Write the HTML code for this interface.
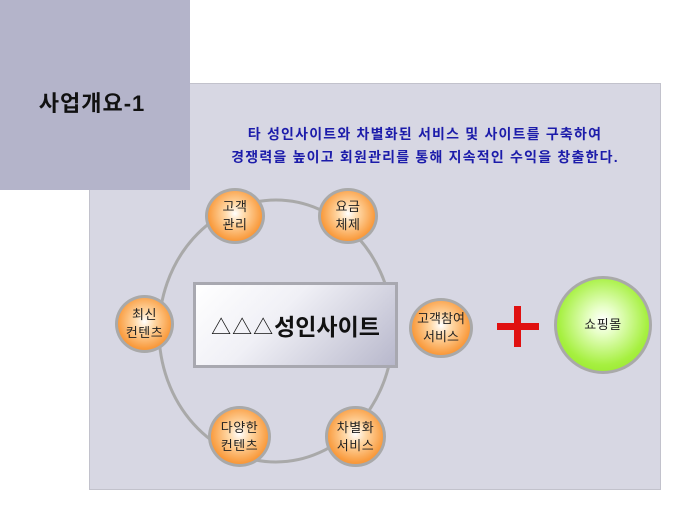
<!DOCTYPE html>
<html><head><meta charset="utf-8"><style>
body{margin:0;width:680px;height:510px;background:#fff;position:relative;overflow:hidden;font-family:"Liberation Sans","Noto Sans CJK KR","NanumGothic",sans-serif}
.panel{position:absolute;left:89px;top:83px;width:572px;height:407px;background:#d7d7e3;border:1px solid #c2c2cc;box-sizing:border-box}
.side{position:absolute;left:0;top:0;width:190px;height:190px;background:#b4b4ca}
.title{position:absolute;left:0;top:86px;width:184px;text-align:center;font-size:22px;font-weight:bold;color:#111;letter-spacing:1px}
.blue{position:absolute;left:175px;width:500px;text-align:center;font-size:14px;font-weight:bold;color:#1c1caa;letter-spacing:1.2px}
.node{position:absolute;border-radius:50%;background:radial-gradient(circle at 50% 45%,#fff 0%,#ffd9a8 25%,#f99a3c 70%,#f28a2c 100%);border:3px solid #a9a9a9;box-sizing:border-box;display:flex;align-items:center;justify-content:center;text-align:center;font-size:13px;line-height:18px;color:#222;letter-spacing:0.5px}
.box{position:absolute;left:193px;top:282px;width:205px;height:86px;border:3px solid #a8a8b0;box-sizing:border-box;background:linear-gradient(135deg,#fff 0%,#f0f0f6 40%,#b8b8cc 100%);display:flex;align-items:center;justify-content:center;font-size:23px;font-weight:bold;color:#111}
</style></head><body>
<div class="panel"></div>
<div class="side"></div>
<div class="title">사업개요-1</div>
<div class="blue" style="top:124px">타 성인사이트와 차별화된 서비스 및 사이트를 구축하여</div>
<div class="blue" style="top:147px">경쟁력을 높이고 회원관리를 통해 지속적인 수익을 창출한다.</div>
<svg style="position:absolute;left:0;top:0" width="680" height="510">
<ellipse cx="276" cy="331" rx="117" ry="131" fill="none" stroke="#a9a9a9" stroke-width="3"/>
<rect x="497" y="323" width="42" height="7" fill="#e01010"/>
<rect x="514" y="306" width="7" height="41" fill="#e01010"/>
</svg>
<div class="box"><span style="font-weight:normal;font-size:20px;letter-spacing:1px">△△△</span>성인사이트</div>
<div class="node" style="left:205px;top:188px;width:60px;height:56px">고객<br>관리</div>
<div class="node" style="left:318px;top:188px;width:60px;height:56px">요금<br>체제</div>
<div class="node" style="left:115px;top:295px;width:59px;height:58px">최신<br>컨텐츠</div>
<div class="node" style="left:409px;top:298px;width:64px;height:60px;letter-spacing:0">고객참여<br>서비스</div>
<div class="node" style="left:208px;top:406px;width:63px;height:61px">다양한<br>컨텐츠</div>
<div class="node" style="left:325px;top:406px;width:61px;height:61px">차별화<br>서비스</div>
<div class="node" style="left:554px;top:276px;width:98px;height:98px;background:radial-gradient(circle at 50% 45%,#fff 0%,#e8ffc8 20%,#a6f040 65%,#8ee020 100%);font-size:13px">쇼핑몰</div>
</body></html>
